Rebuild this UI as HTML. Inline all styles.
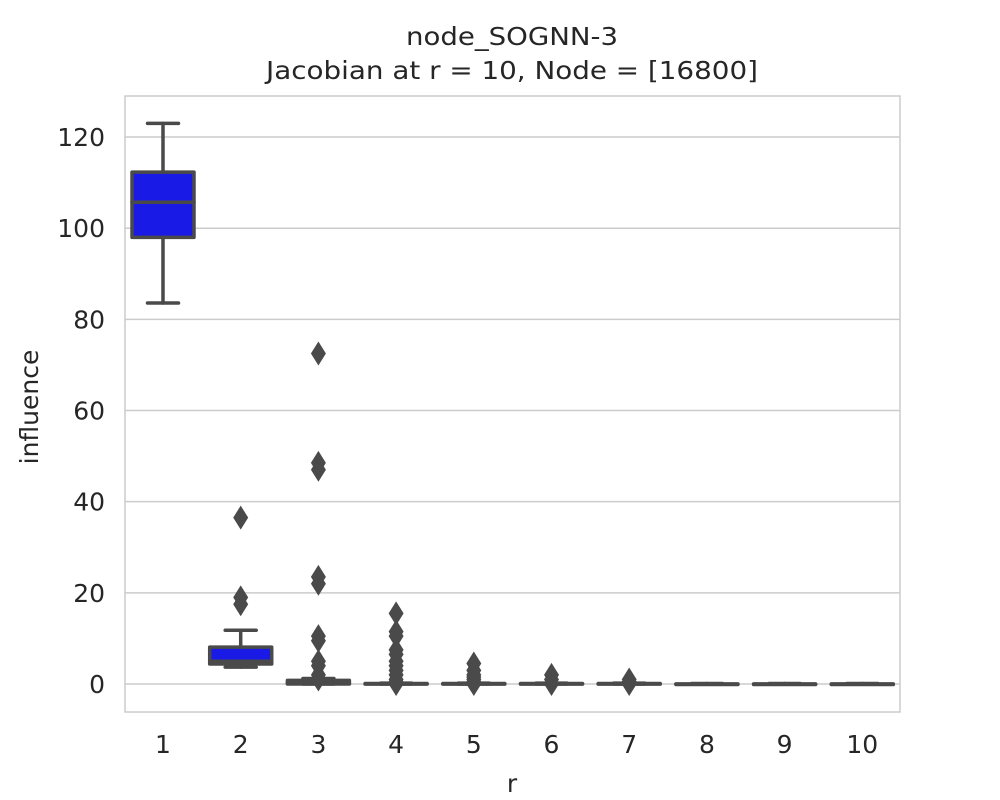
<!DOCTYPE html>
<html><head><meta charset="utf-8"><style>body{margin:0;background:#fff}svg{display:block}</style></head>
<body>
<svg id="chart" width="1000" height="800" xmlns="http://www.w3.org/2000/svg" font-family="'DejaVu Sans','Liberation Sans',sans-serif" fill="#262626">
<rect width="1000" height="800" fill="#fff"/>
<text x="512" y="45" font-size="25" text-anchor="middle" textLength="212" lengthAdjust="spacingAndGlyphs">node_SOGNN-3</text>
<text x="512" y="79" font-size="25" text-anchor="middle" textLength="492" lengthAdjust="spacingAndGlyphs">Jacobian at r = 10, Node = [16800]</text>
<g id="grid"></g>
<g id="marks"></g>
<rect x="125" y="96" width="775" height="616" fill="none" stroke="#ccc" stroke-width="1.5"/>
<g id="ticks"></g>
<text x="512" y="792" font-size="25" text-anchor="middle">r</text>
<text x="0" y="0" font-size="25" text-anchor="middle" transform="translate(38,407) rotate(-90)">influence</text>
</svg>
<script>
const categories = ["1","2","3","4","5","6","7","8","9","10"];
const whiskLow = [83.6, 3.7, 0, 0, 0, 0, 0, 0, 0, 0];
const q1 = [98, 4.4, 0, 0, 0, 0, 0, 0, 0, 0];
const medians = [105.7, 5, 0.2, 0, 0, 0, 0, 0, 0, 0];
const q3 = [112.3, 8.1, 0.8, 0.1, 0.1, 0.1, 0.1, 0, 0, 0];
const whiskHigh = [123, 11.8, 1.2, 0.2, 0.2, 0.2, 0.2, 0.1, 0.1, 0.1];
const outliers = [[], [36.5, 19, 17.5], [72.5, 48.5, 47, 23.5, 22, 10.5, 9.5, 5, 4, 2, 1], [15.5, 11.5, 10.5, 7.5, 6.5, 5, 4, 3, 2, 1, 0.5, 0], [4.5, 3, 2, 1.5, 1, 0.5, 0], [2, 1, 0], [1, 0.5, 0], [], [], []];
const yTicks = [0, 20, 40, 60, 80, 100, 120];

const NS = "http://www.w3.org/2000/svg";
const yScale = v => 684 - v * 4.558;
const xScale = i => 163 + i * 77.7;
const bw = 62;
function mk(tag, attrs, parent) { const e = document.createElementNS(NS, tag); for (const k in attrs) e.setAttribute(k, attrs[k]); parent.appendChild(e); return e; }
const grid = document.getElementById('grid'), marks = document.getElementById('marks'), ticks = document.getElementById('ticks');
yTicks.forEach(t => {
  const l = mk('line', {x1: 125, x2: 900, y1: yScale(t), y2: yScale(t), stroke: '#ccc', 'stroke-width': 1.5}, grid);
  
  
  const tx = mk('text', {x: 105, y: yScale(t) + 9, 'font-size': 25, 'text-anchor': 'end'}, ticks);
  tx.textContent = t;
  
  
});
categories.forEach((c, i) => {
  const x = xScale(i);
  const tx = mk('text', {x: x, y: 753, 'font-size': 25, 'text-anchor': 'middle'}, ticks);
  tx.textContent = c;
  
  
  const g = mk('g', {}, marks);
  
  
  const st = {stroke: '#4a4a4a', 'stroke-width': 3.5, 'stroke-linecap': 'round'};
  mk('line', Object.assign({x1: x, x2: x, y1: yScale(whiskLow[i]), y2: yScale(q1[i])}, st), g);
  mk('line', Object.assign({x1: x, x2: x, y1: yScale(q3[i]), y2: yScale(whiskHigh[i])}, st), g);
  mk('line', Object.assign({x1: x - bw/4, x2: x + bw/4, y1: yScale(whiskLow[i]), y2: yScale(whiskLow[i])}, st), g);
  mk('line', Object.assign({x1: x - bw/4, x2: x + bw/4, y1: yScale(whiskHigh[i]), y2: yScale(whiskHigh[i])}, st), g);
  const h = Math.max(0.5, yScale(q1[i]) - yScale(q3[i]));
  mk('rect', {x: x - bw/2, y: yScale(q3[i]), width: bw, height: h, fill: '#1a1ae6', stroke: '#4a4a4a', 'stroke-width': 3.5, 'stroke-linejoin': 'round'}, g);
  mk('line', Object.assign({x1: x - bw/2, x2: x + bw/2, y1: yScale(medians[i]), y2: yScale(medians[i])}, st), g);
  outliers[i].forEach(v => {
    const y = yScale(v);
    const d = mk('path', {d: `M${x} ${y-12}L${x+7.5} ${y}L${x} ${y+12}L${x-7.5} ${y}Z`, fill: '#4a4a4a'}, g);
    
    
  });
});
</script>
</body></html>
